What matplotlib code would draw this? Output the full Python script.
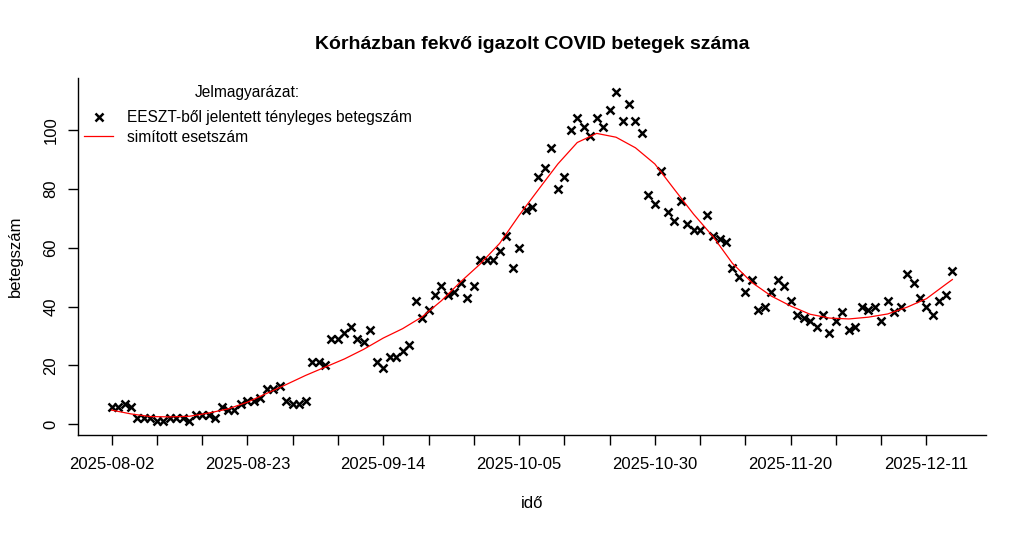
import numpy as np
import matplotlib
matplotlib.use("Agg")
import matplotlib.pyplot as plt

plt.rcParams['font.family'] = ['Liberation Sans', 'DejaVu Sans']

# napi betegszám (EESZT), 131 nap
betegszam = [6, 6, 7, 6, 2, 2, 2, 1, 1, 2, 2, 2, 1, 3, 3, 3, 2, 6, 5, 5,
             7, 8, 8, 9, 12, 12, 13, 8, 7, 7, 8, 21, 21, 20, 29, 29, 31, 33, 29, 28,
             32, 21, 19, 23, 23, 25, 27, 42, 36, 39, 44, 47, 44, 45, 48, 43, 47, 56, 56, 56,
             59, 64, 53, 60, 73, 74, 84, 87, 94, 80, 84, 100, 104, 101, 98, 104, 101, 107, 113, 103,
             109, 103, 99, 78, 75, 86, 72, 69, 76, 68, 66, 66, 71, 64, 63, 62, 53, 50, 45, 49,
             39, 40, 45, 49, 47, 42, 37, 36, 35, 33, 37, 31, 35, 38, 32, 33, 40, 39, 40, 35,
             42, 38, 40, 51, 48, 43, 40, 37, 42, 44, 52]

# simított görbe leolvasott pontjai
simitott_nap = [0, 3, 6, 9, 12, 15, 18, 21, 24, 27, 30, 33, 36, 39, 42, 45, 48, 51, 54, 57,
                60, 63, 66, 69, 72, 75, 78, 81, 84, 87, 90, 93, 96, 99, 102, 105, 108, 111, 114,
                117, 120, 123, 126, 129, 130]
simitott = [4.8, 3.5, 2.6, 2.5, 2.7, 3.8, 5.2, 7.5, 10.5, 13.5, 16.6, 19.4, 22.2, 25.5, 29.3,
            32.5, 36.5, 42.0, 48.5, 54.5, 61.5, 71.0, 79.8, 88.5, 95.8, 98.9, 97.6, 94.0, 88.5,
            79.9, 71.4, 63.8, 54.7, 48.2, 43.6, 40.2, 37.4, 36.1, 35.8, 36.4, 37.5, 39.8, 42.7,
            47.6, 49.2]

datum_pos = [0, 21, 42, 63, 84, 105, 126]
datum_cimkek = ['2025-08-02', '2025-08-23', '2025-09-14', '2025-10-05',
                '2025-10-30', '2025-11-20', '2025-12-11']

nap = np.arange(len(betegszam))

fig = plt.figure(figsize=(10.26, 5.33), dpi=100)
ax = fig.add_axes([0.076, 0.184, 0.885, 0.670])

ax.plot(nap, betegszam, linestyle='none', marker='x', color='black',
        markersize=6, markeredgewidth=1.8, label='EESZT-ből jelentett tényleges betegszám')
ax.plot(simitott_nap, simitott, color='red', lw=0.9, label='simított esetszám')

ax.set_xlim(-5.2, 135.2)
ax.set_ylim(-3.64, 117.8)

ax.spines['top'].set_visible(False)
ax.spines['right'].set_visible(False)
ax.spines['left'].set_linewidth(1.0)
ax.spines['bottom'].set_linewidth(1.0)

ax.set_xticks(np.arange(0, 127, 7), minor=True)
ax.set_xticks(datum_pos)
ax.set_xticklabels(datum_cimkek)
ax.tick_params(axis='x', which='both', length=7, width=1, pad=9, labelsize=12)
ax.set_yticks([0, 20, 40, 60, 80, 100])
ax.tick_params(axis='y', length=7, width=1, pad=7, labelsize=12)
for t in ax.get_yticklabels():
    t.set_rotation(90)
    t.set_va('center')

ax.set_xlabel('idő', fontsize=12, labelpad=17.5)
ax.set_ylabel('betegszám', fontsize=12, labelpad=15)
ax.set_title('Kórházban fekvő igazolt COVID betegek száma', fontsize=14,
             fontweight='bold', pad=21)

# jelmagyarázat
leg = ax.legend(loc='upper left', bbox_to_anchor=(0.0, 0.927), frameon=False,
                fontsize=11.2, handlelength=1.86, handletextpad=0.9,
                labelspacing=0.3, borderaxespad=0.0)
fig.text(247.5 / 1026, 1 - 92 / 533, 'Jelmagyarázat:', fontsize=11.2,
         ha='center', va='center')

fig.savefig('out.png', dpi=100)
